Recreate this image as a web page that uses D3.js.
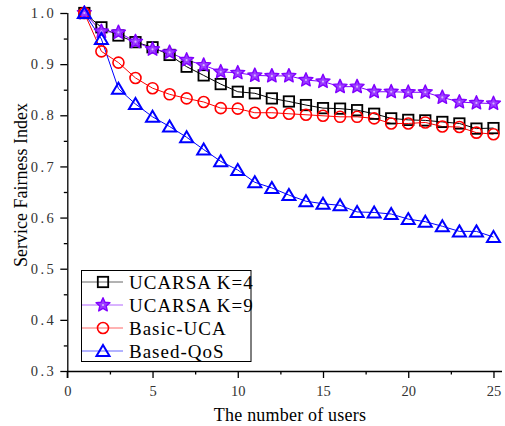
<!DOCTYPE html>
<html>
<head>
<meta charset="utf-8">
<script src="https://cdn.jsdelivr.net/npm/d3@7/dist/d3.min.js"></script>
<style>
  html, body { margin: 0; padding: 0; background: #fff; }
  svg { display: block; }
</style>
</head>
<body>
<svg id="chart" width="505" height="426"></svg>
<script>
// Number of users on the x axis
const users = d3.range(1, 26);

// Service fairness index per scheme
const ucarsaK4 = [1.0, 0.972, 0.956, 0.943, 0.933, 0.918, 0.895, 0.878, 0.861, 0.846, 0.843, 0.833, 0.827, 0.820, 0.814, 0.813, 0.810, 0.803, 0.794, 0.791, 0.790, 0.787, 0.784, 0.774, 0.775];
const ucarsaK9 = [1.0, 0.964, 0.962, 0.944, 0.929, 0.923, 0.908, 0.898, 0.885, 0.883, 0.878, 0.877, 0.877, 0.869, 0.866, 0.856, 0.856, 0.846, 0.846, 0.845, 0.845, 0.835, 0.826, 0.824, 0.823];
const basicUCA = [1.0, 0.925, 0.903, 0.873, 0.853, 0.841, 0.833, 0.826, 0.814, 0.813, 0.805, 0.805, 0.803, 0.801, 0.799, 0.797, 0.797, 0.794, 0.784, 0.784, 0.786, 0.778, 0.777, 0.766, 0.763];
const basedQoS = [1.0, 0.949, 0.852, 0.822, 0.797, 0.778, 0.757, 0.733, 0.710, 0.693, 0.669, 0.658, 0.644, 0.632, 0.627, 0.624, 0.611, 0.610, 0.607, 0.597, 0.592, 0.583, 0.573, 0.573, 0.562];

const seriesNames = ["UCARSA K=4", "UCARSA K=9", "Basic-UCA", "Based-QoS"];

// Tick values
const xTicks = [0, 5, 10, 15, 20, 25];
const yTicks = [0.3, 0.4, 0.5, 0.6, 0.7, 0.8, 0.9, 1.0];

const series = [
  { name: seriesNames[0], values: ucarsaK4, color: "#000000", symbol: "square" },
  { name: seriesNames[1], values: ucarsaK9, color: "#8000ff", symbol: "star" },
  { name: seriesNames[2], values: basicUCA, color: "#ff0000", symbol: "circle" },
  { name: seriesNames[3], values: basedQoS, color: "#0000ff", symbol: "triangle" }
];

const svg = d3.select("#chart");
const serif = "Liberation Serif";

const x = d3.scaleLinear().domain([0, 25.5]).range([67.3, 502]);
const y = d3.scaleLinear().domain([0.3, 1.0]).range([371, 13]);

// Axes (left and bottom only)
const xAxis = svg.append("g").attr("transform", `translate(0,${y(0.3)})`);
xAxis.call(d3.axisBottom(x).tickValues(xTicks).tickSize(7).tickPadding(8).tickFormat(d3.format("d")));
const xMinor = svg.append("g").attr("transform", `translate(0,${y(0.3)})`);
xMinor.call(d3.axisBottom(x).tickValues([2.5, 7.5, 12.5, 17.5, 22.5]).tickSize(3.5).tickFormat(""));
xMinor.select(".domain").remove();

const yAxis = svg.append("g").attr("transform", `translate(${x(0)},0)`);
yAxis.call(d3.axisLeft(y).tickValues(yTicks).tickSize(7).tickPadding(4).tickFormat(d3.format(".1f")));
const yMinor = svg.append("g").attr("transform", `translate(${x(0)},0)`);
yMinor.call(d3.axisLeft(y).tickValues([0.35, 0.45, 0.55, 0.65, 0.75, 0.85, 0.95]).tickSize(3.5).tickFormat(""));
yMinor.select(".domain").remove();

// Extend the y axis line down to the bottom tick
svg.append("line")
  .attr("x1", x(0)).attr("x2", x(0))
  .attr("y1", y(0.3)).attr("y2", y(0.3) + 7)
  .attr("stroke", "#000").attr("stroke-width", 1.3);

[xAxis, yAxis, xMinor, yMinor].forEach(g => {
  g.attr("font-family", serif);
  g.selectAll(".domain").attr("stroke", "#000").attr("stroke-width", 1.3);
  g.selectAll(".tick line").attr("stroke", "#000").attr("stroke-width", 1.3);
  g.selectAll(".tick text")
    .attr("fill", "#333")
    .attr("font-family", serif)
    .attr("font-size", 14.5);
});
xAxis.selectAll(".domain").attr("d", `M${x(0)},0.5H${x(25.5)}`);
yAxis.selectAll(".domain").attr("d", `M0.5,${y(1.0)}V${y(0.3)}`);
yAxis.selectAll(".tick text").attr("letter-spacing", 2.5);

// Axis titles
svg.append("text")
  .attr("x", 290).attr("y", 421)
  .attr("text-anchor", "middle")
  .attr("font-family", serif).attr("font-size", 18).attr("letter-spacing", 0.2)
  .text("The number of users");

svg.append("text")
  .attr("transform", "translate(27,185) rotate(-90)")
  .attr("text-anchor", "middle")
  .attr("font-family", serif).attr("font-size", 18)
  .text("Service Fairness Index");

// Marker drawing
function drawMarker(g, symbol, color) {
  if (symbol === "square") {
    g.append("rect").attr("x", -5.2).attr("y", -5.2).attr("width", 10.4).attr("height", 10.4)
      .attr("fill", "none").attr("stroke", color).attr("stroke-width", 1.8);
  } else if (symbol === "circle") {
    g.append("circle").attr("r", 5.5)
      .attr("fill", "none").attr("stroke", color).attr("stroke-width", 1.6);
  } else if (symbol === "triangle") {
    g.append("path").attr("d", "M0,-6L6.5,5L-6.5,5Z")
      .attr("fill", "none").attr("stroke", color).attr("stroke-width", 2);
  } else if (symbol === "star") {
    const pts = d3.range(10).map(i => {
      const r = i % 2 === 0 ? 7.3 : 3.4;
      const a = -Math.PI / 2 + i * Math.PI / 5;
      return [r * Math.cos(a), r * Math.sin(a)];
    });
    g.append("path").attr("d", "M" + pts.join("L") + "Z")
      .attr("fill", "#9a3cff").attr("stroke", color).attr("stroke-width", 1.4)
      .attr("stroke-linejoin", "round");
    g.append("circle").attr("r", 1.1).attr("fill", "#d6b3ff");
  }
}

const line = d3.line().x((d, i) => x(users[i])).y(d => y(d));

const plot = svg.append("g");
series.forEach(s => {
  plot.append("path")
    .datum(s.values)
    .attr("fill", "none")
    .attr("stroke", s.color)
    .attr("stroke-width", 1)
    .attr("d", line);
});
series.forEach(s => {
  plot.selectAll(null)
    .data(s.values)
    .enter().append("g")
    .attr("transform", (d, i) => `translate(${x(users[i])},${y(d)})`)
    .each(function () { drawMarker(d3.select(this), s.symbol, s.color); });
});

// Legend
const legend = svg.append("g");
legend.append("rect")
  .attr("x", 81.5).attr("y", 270.5).attr("width", 169.5).attr("height", 91)
  .attr("fill", "#fff").attr("stroke", "#000").attr("stroke-width", 1);

const legendY = [282, 305, 328, 351];
series.forEach((s, i) => {
  const g = legend.append("g").attr("transform", `translate(0,${legendY[i]})`);
  g.append("line").attr("x1", 82).attr("x2", 123).attr("y1", 0).attr("y2", 0)
    .attr("stroke", s.color).attr("stroke-width", 1).attr("stroke-opacity", 0.6);
  const m = g.append("g").attr("transform", "translate(103,0)");
  drawMarker(m, s.symbol, s.color);
  g.append("text").attr("x", 129).attr("y", 6.5)
    .attr("font-family", serif).attr("font-size", 19).attr("letter-spacing", 1)
    .text(s.name);
});
</script>
</body>
</html>
